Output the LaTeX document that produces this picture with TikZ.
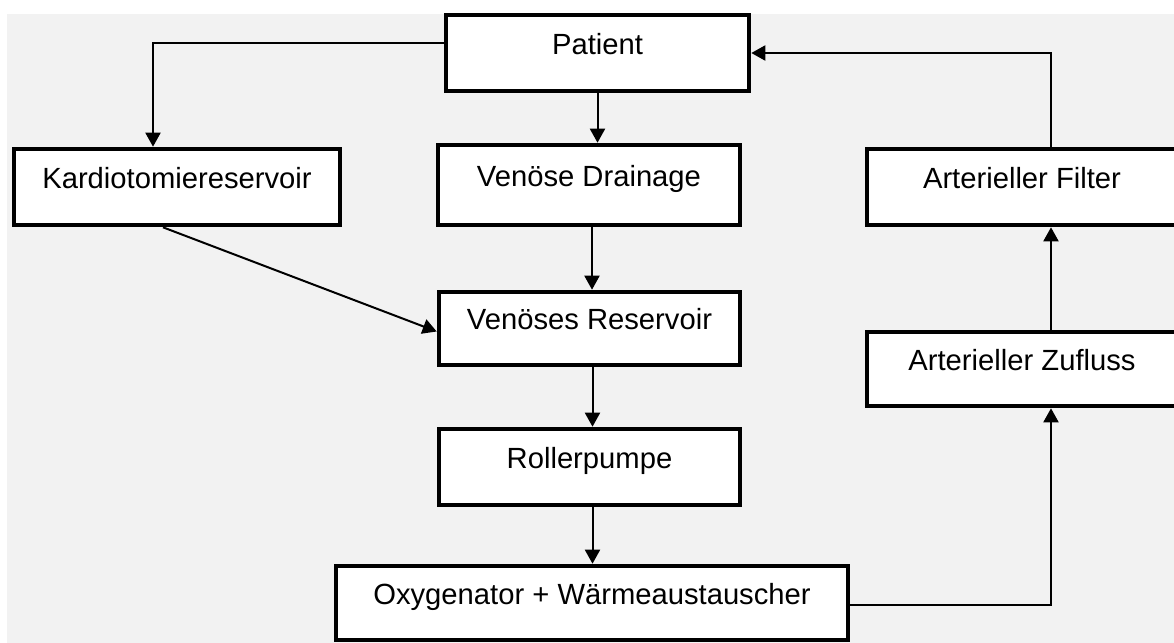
\documentclass[tikz,border=0pt]{standalone}
\usepackage{fontspec}
\setmainfont{Liberation Sans}
\usepackage{tikz}
\usetikzlibrary{arrows.meta, calc}
\definecolor{bggray}{RGB}{242,242,242}

\begin{document}
\begin{tikzpicture}[x=0.5pt, y=-0.5pt,
        box/.style={draw, line width=2.3pt, fill=white, inner sep=0pt,
                text height=10.5pt, text depth=9.5pt, minimum height=38pt,
                font=\fontsize{14.6}{17}\selectfont},
        flow/.style={line width=1pt, -{Triangle[length=7pt,width=7.5pt]}}]
        \useasboundingbox (0,0) rectangle (1174,643);
        \fill[bggray] (7,14) rectangle (1174,643);

        % boxes
        \node[box, minimum width=151.5pt] (patient) at (597.5,53) {Patient};
        \node[box, minimum width=163pt] (kardio) at (177,187) {Kardiotomiereservoir};
        \node[box, minimum width=151pt, minimum height=40pt] (drain) at (589,185) {Venöse Drainage};
        \node[box, minimum width=155pt] (filter) at (1022,187) {Arterieller Filter};
        \node[box, minimum width=150.5pt, minimum height=36.5pt] (reserve) at (589.5,328.5) {Venöses Reservoir};
        \node[box, minimum width=155pt, minimum height=37pt] (zufluss) at (1022,369) {Arterieller Zufluss};
        \node[box, minimum width=150.5pt] (roller) at (589.5,467) {Rollerpumpe};
        \node[box, minimum width=256pt, minimum height=37pt] (oxy) at (592,603) {Oxygenator + Wärmeaustauscher};

        % connectors
        \draw[flow] ($(patient.west)+(0,-10)$) -| ($(kardio.north)+(-24,0)$);
        \draw[flow] (patient.south) -- (patient.south |- drain.north);
        \draw[flow] ($(drain.south)+(3,0)$) -- ($(drain.south |- reserve.north)+(3,0)$);
        \draw[flow] ($(kardio.south)+(-14,0)$) -- ($(reserve.west)+(0,3)$);
        \draw[flow] ($(reserve.south)+(3,0)$) -- ($(reserve.south |- roller.north)+(3,0)$);
        \draw[flow] ($(roller.south)+(3,0)$) -- ($(roller.south |- oxy.north)+(3,0)$);
        \draw[flow] ($(oxy.east)+(0,2)$) -| ($(zufluss.south)+(29,0)$);
        \draw[flow] ($(zufluss.north)+(29,0)$) -- ($(filter.south)+(29,0)$);
        \draw[flow] ($(filter.north)+(29,0)$) |- (patient.east);
\end{tikzpicture}
\end{document}
